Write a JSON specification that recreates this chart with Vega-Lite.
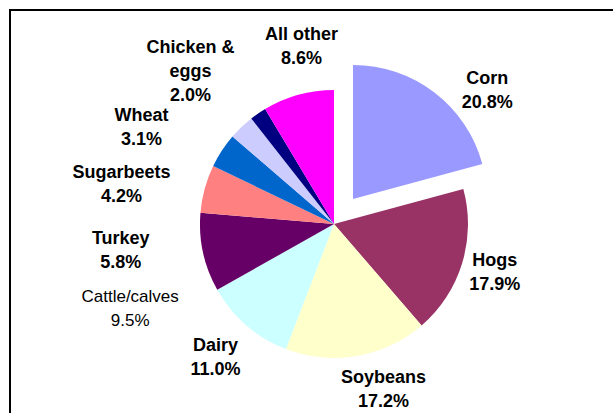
{
  "$schema": "https://vega.github.io/schema/vega-lite/v6.json",
  "width": 606,
  "height": 406,
  "autosize": {"type": "none"},
  "padding": {"left": 10, "top": 10, "right": -3, "bottom": -3},
  "background": "white",
  "view": {"stroke": "black", "strokeWidth": 2, "fill": "white"},
  "config": {"view": {"stroke": "black", "strokeWidth": 2}},
  "data": {"values": [
    {"i": 1, "name": "Corn", "label": "Corn", "value": 20.8},
    {"i": 2, "name": "Hogs", "label": "Hogs", "value": 17.9},
    {"i": 3, "name": "Soybeans", "label": "Soybeans", "value": 17.2},
    {"i": 4, "name": "Dairy", "label": "Dairy", "value": 11.0},
    {"i": 5, "name": "Cattle/calves", "label": "Cattle/calves", "value": 9.5},
    {"i": 6, "name": "Turkey", "label": "Turkey", "value": 5.8},
    {"i": 7, "name": "Sugarbeets", "label": "Sugarbeets", "value": 4.2},
    {"i": 8, "name": "Wheat", "label": "Wheat", "value": 3.1},
    {"i": 9, "name": "Chicken & eggs", "label": "Chicken &\neggs", "value": 2.0},
    {"i": 10, "name": "All other", "label": "All other", "value": 8.6}
  ]},
  "transform": [
    {"calculate": "datum.label + '\\n' + format(datum.value, '.1f') + '%'", "as": "text"}
  ],
  "encoding": {
    "theta": {"field": "value", "type": "quantitative", "stack": true},
    "order": {"field": "i", "type": "quantitative"},
    "color": {
      "field": "name",
      "type": "nominal",
      "scale": {
        "domain": ["Corn", "Hogs", "Soybeans", "Dairy", "Cattle/calves", "Turkey", "Sugarbeets", "Wheat", "Chicken & eggs", "All other"],
        "range": ["#9999FF", "#993366", "#FFFFCC", "#CCFFFF", "#660066", "#FF8080", "#0066CC", "#CCCCFF", "#000080", "#FF00FF"]
      },
      "legend": null
    }
  },
  "layer": [
    {
      "mark": {"type": "arc", "radius": 134, "xOffset": 21, "yOffset": 11},
      "encoding": {"opacity": {"condition": {"test": "datum.name === 'Corn'", "value": 0}, "value": 1}}
    },
    {
      "mark": {"type": "arc", "radius": 134, "xOffset": 40, "yOffset": -14},
      "encoding": {"opacity": {"condition": {"test": "datum.name === 'Corn'", "value": 1}, "value": 0}}
    },
    {
      "mark": {
        "type": "text",
        "xOffset": 21,
        "yOffset": 11,
        "dy": {"expr": "datum.name === 'Chicken & eggs' ? -24 : -12"},
        "lineBreak": "\n",
        "lineHeight": 24,
        "align": "center",
        "baseline": "middle",
        "font": {"expr": "datum.name === 'Cattle/calves' ? 'Liberation Sans Narrow, Liberation Sans, Arial' : 'Liberation Sans, Arial'"},
        "fontWeight": {"expr": "datum.name === 'Cattle/calves' ? 'normal' : 'bold'"},
        "fontSize": {"expr": "datum.name === 'Cattle/calves' ? 17 : 18"},
        "thetaOffset": {"expr": "[0.2025, 0, -0.117, 0.0105, -0.1815, -0.3927, -0.398, -0.3456, -0.1536, 0.089][indexof(['Corn','Hogs','Soybeans','Dairy','Cattle/calves','Turkey','Sugarbeets','Wheat','Chicken & eggs','All other'], datum.name)]"}
      },
      "encoding": {
        "text": {"field": "text"},
        "radius": {"value": {"expr": "[203, 168, 173, 179, 221, 215, 216, 215, 209, 180][indexof(['Corn','Hogs','Soybeans','Dairy','Cattle/calves','Turkey','Sugarbeets','Wheat','Chicken & eggs','All other'], datum.name)]"}},
        "color": {"value": "black"}
      }
    }
  ]
}
